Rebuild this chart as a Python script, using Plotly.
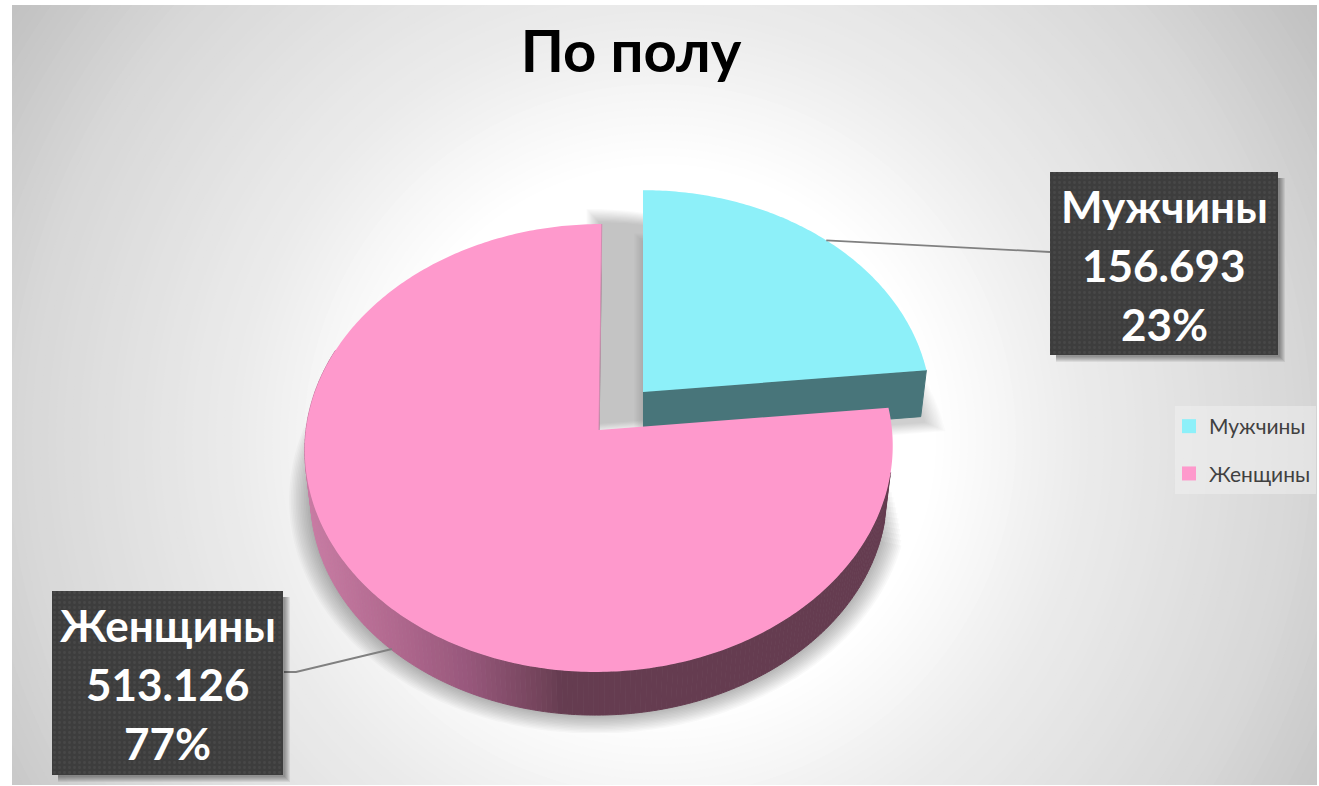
import numpy as np
import plotly.graph_objects as go

# ---- data
categories = ["Мужчины", "Женщины"]
values = [156693, 513126]
colors = ["#8DF0F9", "#FE99CC"]
wall_men = "#48757A"
title_text = "По полу"

# ---- frame (axis units equal screen pixels)
X0, X1, Y0, Y1 = 12, 1317, 5, 785
K, A, B = 0.0803, 222.5, 293.0

total = sum(values)
th_split = 2 * np.pi * values[0] / total


def proj(theta, scale, ax, ay, skew=3.0):
    u, v = np.sin(theta), np.cos(theta)
    w = 1 + K * v
    return ax + scale * (B * u + skew * v) / w, ay - scale * A * v / w


def blob(xs, ys, color, line=None):
    return go.Scatter(x=list(xs), y=list(ys), mode="lines", fill="toself", fillcolor=color,
                      line=dict(color=line or "rgba(0,0,0,0)", width=1 if line else 0, simplify=False),
                      hoverinfo="skip", showlegend=False)


def grow(xs, ys, f, cx, cy):
    return cx + (np.asarray(xs) - cx) * f, cy + (np.asarray(ys) - cy) * f


traces = []
W_AX, W_AY, M_AX, M_AY = 599, 430, 643, 392
M_SC = 0.98
th_w = np.linspace(th_split, 2 * np.pi, 360)
th_m = np.linspace(0, th_split, 120)

# shadow of women's slice (a wedge, so the gap behind the men's slice stays light)
for i in range(13):
    f = 1 + (i + 1) * 0.0058
    th_s = np.linspace(th_split + 0.12 + i * 0.022, 2 * np.pi, 360)
    wx, wy = proj(th_s, 0.98, W_AX, W_AY + 48)
    wx, wy = np.r_[W_AX, wx], np.r_[W_AY + 48, wy]
    sx, sy = grow(wx, wy, f, W_AX - 2, W_AY + 40)
    sy = np.minimum(sy, 733)
    sx = np.maximum(sx, 283)
    traces.append(blob(sx, sy, "rgba(0,0,0,0.022)"))

# shadow of men's slice
mx, my = proj(th_m, M_SC, M_AX, M_AY, skew=0.0)
mbx, mby = proj(th_m, M_SC * 0.98, M_AX, M_AY + 46, skew=0.0)
for i in range(12):
    f = 1 + i * 0.011
    sx, sy = grow(np.r_[M_AX, mbx] + 5, np.r_[M_AY + 46, mby] + 6, f, M_AX + 120, M_AY - 40)
    traces.append(blob(sx, sy, "rgba(0,0,0,0.014)"))
    sx, sy = grow(np.r_[M_AX, mx] - 44, np.r_[M_AY, my] + 32, f, M_AX + 60, M_AY - 60)
    traces.append(blob(sx, sy, "rgba(0,0,0,0.018)"))

# men's slice: wall then top
ex, ey = proj(np.array([0.0, th_split]), M_SC, M_AX, M_AY, skew=0.0)
fx, fy = proj(np.array([0.0, th_split]), M_SC * 0.98, M_AX, M_AY + 46, skew=0.0)
traces.append(blob([M_AX, ex[1], fx[1], M_AX], [M_AY, ey[1], fy[1], M_AY + 46], wall_men, wall_men))
traces.append(blob(np.r_[M_AX, mx, M_AX], np.r_[M_AY, my, M_AY], colors[0]))

# women's slice: wall made of shaded strips, then top
stops_x = [306, 400, 470, 548, 562, 900]
stops_r = [0xCB, 0xB0, 0x98, 0x70, 0x65, 0x65]
stops_g = [0x7E, 0x68, 0x58, 0x42, 0x3C, 0x3C]
stops_b = [0xA6, 0x8E, 0x7C, 0x58, 0x50, 0x50]
edges = np.linspace(np.pi * 0.56, np.pi * 1.62, 200)
for a, b in zip(edges[:-1], edges[1:]):
    seg = np.linspace(a, b, 3)
    tx, ty = proj(seg, 1, W_AX, W_AY)
    bx, by = proj(seg, 0.98, W_AX, W_AY + 48)
    xm = bx.mean()
    col = "#%02X%02X%02X" % (int(np.interp(xm, stops_x, stops_r)), int(np.interp(xm, stops_x, stops_g)),
                             int(np.interp(xm, stops_x, stops_b)))
    traces.append(blob(np.r_[tx, bx[::-1]], np.r_[ty, by[::-1]], col, col))
wtx, wty = proj(th_w, 1, W_AX, W_AY)
traces.append(blob(np.r_[W_AX, wtx, W_AX], np.r_[W_AY, wty, W_AY], colors[1]))
traces.append(go.Scatter(x=[W_AX, wtx[-1]], y=[W_AY, wty[-1]], mode="lines",
                         line=dict(color="#D08CB0", width=1), hoverinfo="skip", showlegend=False))

# leader lines
LEADER = "#808080"
lmx, lmy = proj(np.array([th_split * 0.505]), M_SC, M_AX, M_AY, skew=0.0)
traces.append(go.Scatter(x=[lmx[0], 1050], y=[lmy[0], 252], mode="lines",
                         line=dict(color=LEADER, width=1.8), hoverinfo="skip", showlegend=False))
traces.append(go.Scatter(x=[392, 296, 284], y=[649, 672, 672], mode="lines",
                         line=dict(color=LEADER, width=1.8), hoverinfo="skip", showlegend=False))

# label boxes
boxes = [(1050, 1278, 172, 355), (52, 283, 591, 775)]
annotations = []
for idx, (x0, x1, y0, y1) in enumerate(boxes):
    for i in range(6):
        d = 7 - i
        traces.append(blob([x0 + 6, x1 + d, x1 + d, x0 + 6, x0 + 6], [y0 + 6, y0 + 6, y1 + d, y1 + d, y0 + 6],
                           "rgba(0,0,0,0.07)"))
    traces.append(go.Scatter(x=[x0, x1, x1, x0, x0], y=[y0, y0, y1, y1, y0], mode="lines", fill="toself",
                             fillcolor="#3D3D3D",
                             fillpattern=dict(shape=".", size=5, solidity=0.25, fgcolor="#525252", bgcolor="#3D3D3D"),
                             line=dict(color="#3D3D3D", width=0), hoverinfo="skip", showlegend=False))
    lines = [categories[idx], f"{values[idx]:,}".replace(",", "."), f"{round(100 * values[idx] / total)}%"]
    for j, t in enumerate(lines):
        annotations.append(dict(x=(x0 + x1) / 2, y=y0 + 34 + j * 59, xref="x", yref="y", text=t, showarrow=False,
                                xanchor="center", yanchor="middle",
                                font=dict(family="Lato, 'Noto Sans'", size=44, color="white", weight=700)))

# legend keys
for name, col in zip(categories, colors):
    traces.append(go.Scatter(x=[None], y=[None], mode="markers", name=name, legendgroup=name,
                             marker=dict(symbol="square", size=14, color=col), hoverinfo="skip"))

# background radial shading
shapes = []
dist = np.arange(900, 200, -8)
gray = np.interp(dist, [280, 425, 640, 780, 900], [255, 236, 216, 194, 185])
for d, g in zip(dist, gray):
    g = int(g)
    shapes.append(dict(type="circle", layer="below", xref="x", yref="y", x0=660 - d, x1=660 + d,
                       y0=440 - d, y1=440 + d, line=dict(width=0), fillcolor=f"rgb({g},{g},{g})"))
shapes.insert(0, dict(type="rect", layer="below", xref="x", yref="y", x0=X0, x1=X1, y0=Y0, y1=Y1,
                      line=dict(width=0), fillcolor="#BFBFBF"))

fig = go.Figure(traces)
fig.update_layout(
    width=1319, height=786,
    margin=dict(l=X0, r=1319 - X1, t=Y0, b=786 - Y1, autoexpand=False),
    paper_bgcolor="white", plot_bgcolor="white",
    xaxis=dict(visible=False, range=[X0, X1], fixedrange=True),
    yaxis=dict(visible=False, range=[Y1, Y0], fixedrange=True),
    title=dict(text=title_text, x=631 / 1319, xanchor="center", y=1 - 52 / 786, yanchor="middle",
               font=dict(family="Lato, 'Noto Sans'", size=58, color="black", weight=700)),
    showlegend=True,
    legend=dict(x=(1175 - X0) / (X1 - X0), y=(Y1 - 406) / (Y1 - Y0), xanchor="left", yanchor="top",
                bgcolor="rgba(245,245,245,0.45)", borderwidth=0, itemsizing="trace",
                traceorder="grouped", tracegroupgap=17, indentation=-6, itemclick=False, itemdoubleclick=False,
                font=dict(family="Lato, 'Noto Sans'", size=21, color="#404040")),
    shapes=shapes, annotations=annotations,
)
fig.write_html("out.html", post_script="document.body.style.margin='0';", config=dict(displayModeBar=False))
